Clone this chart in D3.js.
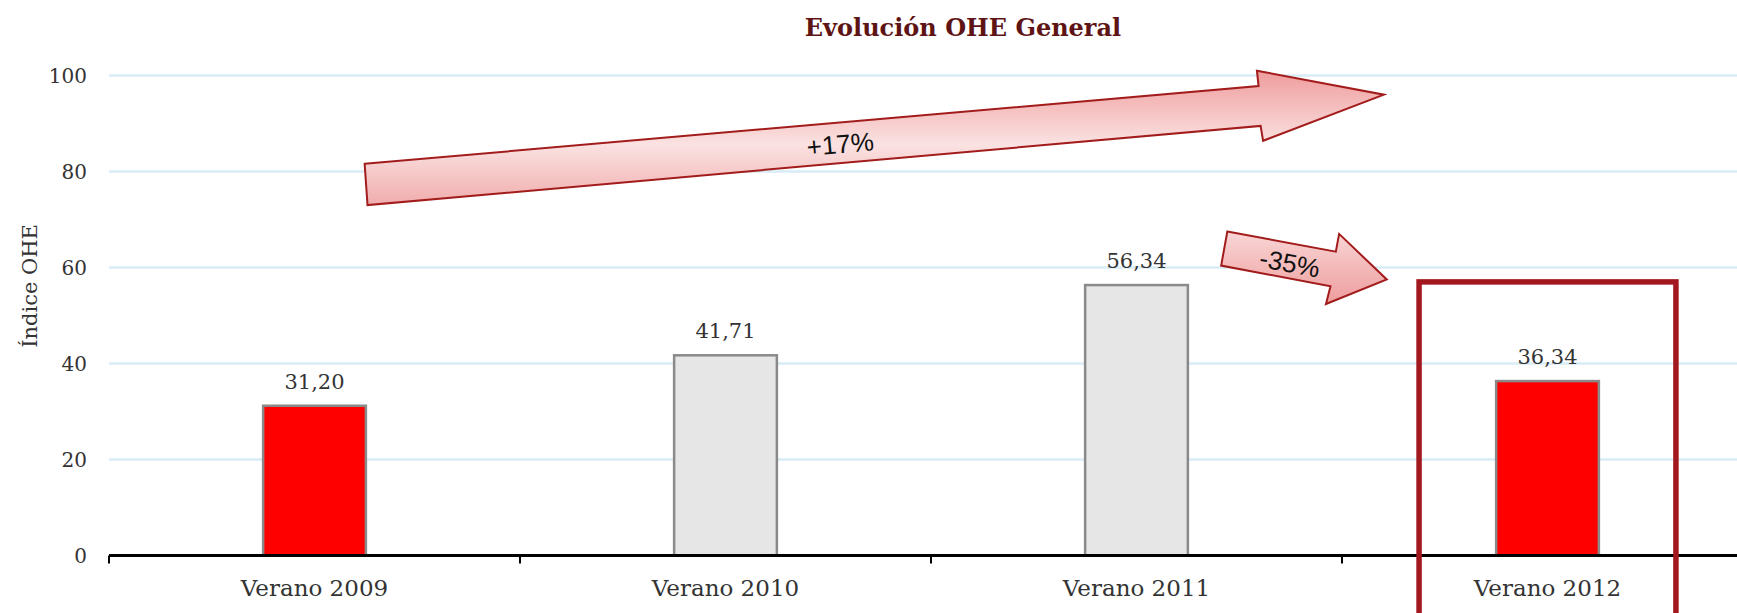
<!DOCTYPE html>
<html>
<head>
<meta charset="utf-8">
<script src="https://cdn.jsdelivr.net/npm/d3@7"></script>
<style>
  body { margin: 0; background: #fff; }
  svg { display: block; }
</style>
</head>
<body>
<svg width="1737" height="613"></svg>
<script>
var categories = ['Verano 2009', 'Verano 2010', 'Verano 2011', 'Verano 2012'];
var values = [31.20, 41.71, 56.34, 36.34];
var highlighted = [true, false, false, true];
var yTicks = [0, 20, 40, 60, 80, 100];

var width = 1737, height = 613;
var left = 109, step = 411;
var y0 = 555.5, y100 = 75.5;

var svg = d3.select('svg');

var fmt = function(v) { return v.toFixed(2).replace('.', ','); };

// step scale (no padding) for ticks, bar scale for the columns
var xs = d3.scaleBand().domain(categories).range([left, left + step * categories.length]).padding(0);
var x = d3.scaleBand().domain(categories).range(xs.range()).paddingInner(0.75).paddingOuter(0.375);
var y = d3.scaleLinear().domain([0, 100]).range([y0, y100]);
// helper for annotations, in units of category steps
var u = d3.scaleLinear().domain([0, 1]).range([left, left + step]);

var defs = svg.append('defs');
var g1 = defs.append('linearGradient').attr('id', 'gBig').attr('x1', 0).attr('y1', 0).attr('x2', 0).attr('y2', 1);
g1.append('stop').attr('offset', 0).attr('stop-color', '#ef9c9c');
g1.append('stop').attr('offset', 0.55).attr('stop-color', '#fbe2e2');
g1.append('stop').attr('offset', 1).attr('stop-color', '#f0acac');
var g2 = defs.append('linearGradient').attr('id', 'gSmall').attr('x1', 0).attr('y1', 0).attr('x2', 0).attr('y2', 1);
g2.append('stop').attr('offset', 0).attr('stop-color', '#f9d6d6');
g2.append('stop').attr('offset', 1).attr('stop-color', '#ee9c9c');

// gridlines
svg.append('g')
  .selectAll('line')
  .data(yTicks.filter(function(d) { return d > 0; }))
  .enter()
  .append('line')
  .attr('x1', left)
  .attr('x2', width)
  .attr('y1', function(d) { return y(d); })
  .attr('y2', function(d) { return y(d); })
  .style('stroke', '#d8edf5')
  .style('stroke-width', 2.5);

// y tick labels
svg.append('g')
  .selectAll('text')
  .data(yTicks)
  .enter()
  .append('text')
  .attr('x', 87)
  .attr('y', function(d) { return y(d) + 7; })
  .attr('text-anchor', 'end')
  .style('font-family', 'DejaVu Serif')
  .style('font-size', '20px')
  .style('fill', '#333')
  .text(function(d) { return d; });

svg.append('text')
  .attr('transform', 'translate(37,' + 286 + ') rotate(-90)')
  .attr('text-anchor', 'middle')
  .style('font-family', 'DejaVu Serif')
  .style('font-size', '21px')
  .style('fill', '#333')
  .text('Índice OHE');

// bars
svg.append('g')
  .selectAll('rect')
  .data(values)
  .enter()
  .append('rect')
  .attr('x', function(d, i) { return x(categories[i]); })
  .attr('width', x.bandwidth())
  .attr('y', function(d) { return y(d); })
  .attr('height', function(d) { return y(0) - y(d); })
  .style('fill', function(d, i) { return highlighted[i] ? '#ff0000' : '#e6e6e6'; })
  .style('stroke', '#8a8a8a')
  .style('stroke-width', 2.5);

// value labels
svg.append('g')
  .selectAll('text')
  .data(values)
  .enter()
  .append('text')
  .attr('x', function(d, i) { return x(categories[i]) + x.bandwidth() / 2; })
  .attr('y', function(d) { return y(d) - 17; })
  .attr('text-anchor', 'middle')
  .style('font-family', 'DejaVu Serif')
  .style('font-size', '21px')
  .style('fill', '#333')
  .text(fmt);

// x axis
var xAxis = svg.append('g');
xAxis.append('line')
  .attr('x1', left).attr('x2', width)
  .attr('y1', y(0)).attr('y2', y(0))
  .style('stroke', '#000').style('stroke-width', 3);
xAxis.selectAll('.tick')
  .data(categories)
  .enter()
  .append('line')
  .attr('x1', function(d) { return xs(d); })
  .attr('x2', function(d) { return xs(d); })
  .attr('y1', y(0))
  .attr('y2', y(0) + 8)
  .style('stroke', '#000').style('stroke-width', 2);
xAxis.selectAll('text')
  .data(categories)
  .enter()
  .append('text')
  .attr('x', function(d) { return xs(d) + xs.bandwidth() / 2; })
  .attr('y', 596)
  .attr('text-anchor', 'middle')
  .style('font-family', 'DejaVu Serif')
  .style('font-size', '23px')
  .style('fill', '#333')
  .text(function(d) { return d; });

// highlight box around last category
var last = categories[categories.length - 1];
var cx = xs(last) + xs.bandwidth() / 2;
svg.append('rect')
  .attr('x', cx - xs.bandwidth() * 0.3125)
  .attr('width', xs.bandwidth() * 0.625)
  .attr('y', y(57))
  .attr('height', 400)
  .style('fill', 'none')
  .style('stroke', '#a3181f')
  .style('stroke-width', 5.5);

// arrows (points in step units / index values)
var bigArrow = [[0.622, 81.6], [2.797, 97.8], [2.793, 101.0], [3.102, 96.0], [2.808, 86.4], [2.802, 89.5], [0.629, 73.0]];
var smallArrow = [[2.721, 67.5], [2.985, 63.3], [2.993, 67.0], [3.109, 57.5], [2.961, 52.4], [2.972, 56.1], [2.706, 60.4]];
var pts = function(a) { return a.map(function(p) { return u(p[0]) + ',' + y(p[1]); }).join(' '); };

svg.append('polygon')
  .attr('points', pts(bigArrow))
  .style('fill', 'url(#gBig)')
  .style('stroke', '#a31c1c')
  .style('stroke-width', 2);
svg.append('polygon')
  .attr('points', pts(smallArrow))
  .style('fill', 'url(#gSmall)')
  .style('stroke', '#a31c1c')
  .style('stroke-width', 2);

svg.append('text')
  .attr('transform', 'translate(' + u(1.779) + ',' + y(85.7) + ') rotate(-5.1)')
  .attr('text-anchor', 'middle')
  .attr('dy', '0.35em')
  .style('font-family', 'Liberation Sans')
  .style('font-size', '26px')
  .style('fill', '#111')
  .text('+17%');
svg.append('text')
  .attr('transform', 'translate(' + u(2.873) + ',' + y(60.9) + ') rotate(10.5)')
  .attr('text-anchor', 'middle')
  .attr('dy', '0.35em')
  .style('font-family', 'Liberation Sans')
  .style('font-size', '26px')
  .style('fill', '#111')
  .text('-35%');

// title
svg.append('text')
  .attr('x', 963)
  .attr('y', 36)
  .attr('text-anchor', 'middle')
  .style('font-family', 'DejaVu Serif')
  .style('font-weight', 'bold')
  .style('font-size', '24px')
  .style('fill', '#5e1414')
  .text('Evolución OHE General');
</script>
</body>
</html>
